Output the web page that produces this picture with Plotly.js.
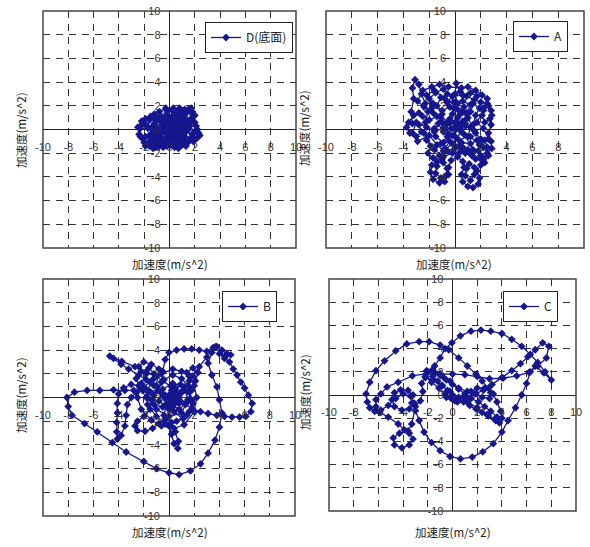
<!DOCTYPE html>
<html><head><meta charset="utf-8">
<script src="https://cdn.plot.ly/plotly-3.0.1.min.js"></script>
<style>html,body{margin:0;padding:0;background:#fff}#chart{width:590px;height:547px}</style>
</head><body><div id="chart"></div>
<script>
// ---- data ----
const tickVals = [-10,-8,-6,-4,-2,0,2,4,6,8,10];
const tickText = ["-10","-8","-6","-4","-2","0","2","4","6","8","10"];
const axisTitle = "加速度(m/s^2)";
const seriesNames = ["D(底面)","A","B","C"];

const dX = [0,0.4,0.9,1.3,1.5,1.2,0.6,0,-0.6,-1.0,-1.1,-0.8,-0.2,0.4,1.0,1.4,1.8,1.9,1.6,1.2,1.1,1.5,1.8,2.0,2.2,2.4,2.2,1.8,1.5,1.0,0.4,-0.2,-0.8,-1.3,-1.6,-1.4,-1.9,-2.3,-2.4,-2.1,-1.8,-1.5,-1.9,-2.0,-1.6,-1.1,-0.7,-0.3,0.2,0.7,0.9,0.5,-0.1,-0.5,-0.6,-1.0,-1.5,-1.9,-2.1,-1.7,-1.2,-0.7,-0.2,0.3,0.8,0.6,0.1,-0.4,-0.9,-0.9,-0.4,0.2,0.8,1.2,1.1,0.6,0.1,-0.3,0.3,0.8,1.6,2.0,1.7,1.1,0.6,0.0,-0.5,-1.1,-1.4,-1.2,-0.8,-0.3,0.2,0.7,1.2,1.0,0.4,0,
  0.2,-0.5,-1.2,-1.6,-2.2,-2.5,-2.3,-1.9,-1.3,-0.6,0.1,0.7,1.3,1.9,2.3,2.1,1.7,2.0,1.7,1.2,0.8,0.3,-0.3,-0.8,-1.3,-1.8,-1.3,-0.9,-0.3,0.2,0.6,1.0,1.4,1.8,1.3,0.9,0.5,-0.1,-0.6,-1.0,-1.4,-0.9,-0.2,0.5,1.0,1.6,1.2,0.6,0.0,-0.4,0.0,0.4];
const dY = [0,0.5,0.8,0.5,0,-0.6,-1.0,-1.2,-0.9,-0.4,0.2,0.8,1.2,1.3,1.1,1.5,1.5,1.1,0.8,1.0,1.4,1.7,1.3,0.6,0.0,-0.5,-0.7,-0.4,-0.9,-1.3,-1.5,-1.4,-1.3,-1.0,-0.5,0.2,0.4,0.1,-0.4,-0.8,-1.2,-0.9,-0.6,-1.1,-1.4,-1.2,-0.6,0,0.3,0.2,-0.3,-0.7,-0.6,-0.2,0.4,0.9,1.1,0.9,0.5,0.1,0.5,1.1,1.6,1.8,1.6,1.1,0.8,0.6,0.1,-0.7,-1.1,-1.0,-0.8,-0.3,0.3,0.6,0.4,-0.3,-0.4,0.1,0.3,-0.2,-0.8,-1.0,-1.3,-0.9,-1.5,-1.5,-1.2,-0.6,-0.1,0.5,1.1,1.3,0.8,0.2,-0.1,0.1,
  0.2,0.9,1.3,0.8,0.7,0.2,-0.6,-1.4,-1.6,-1.2,-1.3,-1.6,-1.4,-1.0,-0.3,0.3,0.7,1.2,1.8,1.7,1.8,1.5,1.8,1.5,1.0,0.3,-0.3,-0.9,-0.8,-0.6,-0.3,-0.7,-1.1,-0.6,0.0,0.5,0.9,0.9,0.2,-0.2,-0.7,-1.5,-1.1,-0.5,0.0,0.5,1.2,1.0,0.6,0.0,-0.3,0.2];

const aX = [0,0.6,1.2,1.0,0.3,-0.5,-0.7,-0.2,0.2,0.0,0.1,0.4,0.9,1.5,2.0,2.5,2.8,2.7,2.3,2.1,2.2,2.6,2.85,2.8,2.6,2.8,2.85,2.5,2.2,2.0,1.6,1.4,1.6,1.9,1.4,0.7,0.4,0.2,-0.3,-0.9,-1.3,-1.0,-1.4,-1.1,-0.6,-0.9,-1.5,-2.0,-1.8,-1.4,-2.0,-2.5,-2.8,-3.2,-3.6,-3.75,-3.5,-3.0,-2.6,-2.8,-3.3,-3.4,-3.2,-3.3,-3.1,-2.8,-2.6,-2.3,-2.1,-2.3,-2.4,-2.2,-1.9,-2.1,-1.7,-1.2,-0.8,-0.4,0.3,0.8,1.3,1.8,2.2,2.0,1.7,1.9,1.8,1.4,1.0,0.6,0.5,0.7,1.1,1.5,1.5,1.2,0.8,0.9,0.6,0.2,-0.3,-0.5,-0.5,-0.8,-1.2,-1.7,-1.9,-1.8,-1.4,-0.9,-0.6,-0.7,-1.1,-1.5,-1.4,-1.0,-0.6,0.0,0.5,1.2,1.7,2.3,2.5,2.6,2.3,2.0,1.4,0.7,0.3,-0.4,-1.0,-1.6,-1.5,-0.9,-0.2,0.4,0.9,0.6,-0.1,-0.6,-0.2,0.6,1.2,1.7,1.2,0.8,0,
  0.3,-0.4,-1.1,-1.7,-2.4,-2.9,-2.5,-1.8,-1.2,-0.5,0.5,1.0,1.6,2.1,2.5,2.2,1.7,2.2,2.6,1.9,1.2,0.5,-0.2,-0.9,-1.4,-2.0,-2.9,-3.3,-3.0,-2.2,-1.6,-0.8,0.0,0.8,1.5,1.0,0.2,-0.4,-1.0,-1.7,-2.2,-1.6,-0.8,-0.1,0.6,1.2,0.9,0.2,-0.6,-1.1,-1.6,-0.9,-0.2,0.4,1.0,1.6,2.1,1.3,0.6,0];
const aY = [0,0.7,0.2,-0.6,-0.9,-0.4,0.5,1.3,2.2,3.0,3.9,3.2,2.8,2.5,2.3,2.2,1.6,0.9,0.6,1.2,1.8,2.0,1.2,0.4,-0.3,-1.0,-1.6,-2.0,-1.5,-0.8,-0.3,0.4,1.2,1.8,2.2,1.9,1.3,0.5,0.1,-0.2,0.5,1.3,2.0,2.7,3.0,3.4,3.1,2.6,1.8,1.1,0.8,1.1,1.4,1.2,0.6,0.2,-0.3,-0.6,-0.2,0.4,0.5,1.5,2.6,3.5,4.2,3.8,3.0,2.2,1.5,0.6,-0.3,-0.9,-1.4,-2.0,-2.4,-2.2,-1.6,-1.0,-1.4,-2.0,-2.2,-1.8,-2.4,-3.0,-3.5,-4.1,-4.6,-4.9,-4.8,-4.4,-3.8,-3.2,-2.9,-3.2,-3.8,-4.3,-3.9,-3.3,-2.7,-2.3,-2.6,-3.2,-3.8,-4.4,-4.5,-4.2,-3.6,-3.0,-2.7,-2.8,-3.3,-3.9,-4.1,-3.7,-3.1,-2.5,-1.8,-1.6,-1.1,-1.2,-0.9,-0.9,-1.5,-2.2,-2.8,-2.2,-1.7,-0.4,0.4,0.9,0.6,0.1,-0.6,-1.1,-0.5,0.1,0.9,1.6,1.8,2.3,2.8,2.9,3.1,2.8,1.5,0.5,0,
  0.2,0.6,1.0,1.4,1.9,2.4,3.3,3.6,3.8,3.6,3.5,3.6,3.3,2.9,2.6,1.6,0.6,0.1,-0.8,-1.3,-0.6,-0.2,-1.2,-1.8,-1.3,-0.5,-1.0,-0.3,0.6,0.2,-0.2,0.2,0.6,0.3,-0.1,1.0,1.7,1.9,1.6,2.2,2.9,3.3,2.6,2.3,2.4,2.1,1.4,1.0,-0.6,-1.2,-1.7,-2.3,-2.0,-1.9,-1.7,-2.5,-2.6,-2.0,-1.5,-0.6];

const bX = [0,0.5,1.0,0.8,0.0,-0.8,-0.5,0.3,1.2,1.5,1.0,0.0,-1.0,-1.2,-0.6,-0.5,-0.3,0.0,0.6,1.2,1.8,2.4,3.0,3.5,3.8,4.2,4.6,4.9,4.5,4.0,4.4,4.8,5.1,5.4,5.7,6.0,6.3,6.6,6.5,6.1,5.6,5.0,4.4,3.8,3.1,2.5,1.9,1.3,0.7,0.2,-0.5,-1.0,-1.8,-2.7,-3.75,-4.7,-4.4,-3.8,-3.2,-2.4,-1.8,-1.2,-0.6,-0.2,0.4,1.1,1.6,1.8,1.6,1.0,0.3,-0.4,-0.9,-1.5,-2.1,-2.8,-3.5,-4.4,-5.5,-6.5,-7.5,-8.1,-8.0,-7.7,-6.7,-5.7,-4.5,-3.4,-2.0,-1.0,0.0,0.8,1.7,2.5,3.1,3.65,4.0,4.2,4.0,3.8,3.4,3.1,3.4,3.7,3.0,2.4,1.9,1.5,0.9,0.2,-0.5,-1.2,-1.8,-2.3,-2.6,-2.2,-1.6,-1.2,-1.5,-2.0,-2.6,-3.0,-3.3,-3.4,-3.5,-3.8,-4.1,-4.15,-4.15,-4.1,-4.1,-4.0,-3.6,-3.0,-2.4,-1.8,-1.4,-1.5,-2.0,-2.5,-2.7,-2.5,-1.9,-1.3,-0.8,-0.3,0.2,0.5,0.75,0.7,0.4,0.2,0.0,-0.4,-0.2,0.5,1.2,1.6,1.4,1.9,2.3,2.1,1.8,1.4,0.8,0.2,-0.3,0.2,0.8,0.5,0,
  0.2,0.9,1.5,1.9,1.4,0.6,-0.3,-1.0,-1.7,-1.7,-1.3,-0.6,0.3,1.0,1.6,2.0,2.2,2.0,1.2,0.4,-0.6,-1.4,-2.2,-2.5,-2.2,-1.8,-2.4,-2.0,-1.4,-0.8,-1.0,-0.4,0.3,0.9,0.6,0];
const bY = [0,0.8,0.5,-0.5,-1.0,-0.3,0.7,1.2,0.9,-0.2,-1.3,-1.6,-1.0,0.2,1.3,2.2,3.2,3.8,4.0,4.1,4.1,4.0,3.9,4.2,4.3,4.0,3.7,3.6,3.5,3.7,3.3,3.0,2.4,1.9,1.3,0.8,0.2,-0.5,-1.2,-1.6,-1.65,-1.65,-1.6,-1.5,-1.35,-1.2,-1.0,-0.6,0.2,0.9,1.4,1.8,2.1,2.6,3.05,3.5,3.3,2.8,2.4,1.9,1.5,1.0,0.4,-0.5,-1.2,-1.8,-1.2,-0.2,0.9,1.6,1.9,1.5,0.6,0.5,0.6,0.6,0.6,0.65,0.6,0.6,0.45,0.0,-0.75,-1.5,-2.2,-2.9,-3.8,-4.6,-5.4,-6.0,-6.35,-6.5,-6.2,-5.6,-4.7,-3.6,-2.5,-1.3,-0.2,0.9,1.9,2.9,3.8,4.3,3.4,2.6,1.8,1.0,0.3,-0.3,-0.8,-0.6,0.0,0.8,1.6,2.2,2.5,2.0,1.3,0.9,0.4,0.0,-0.6,-1.5,-2.4,-3.2,-3.5,-2.9,-2.1,-1.3,-0.5,0.3,0.8,1.1,1.0,0.6,-0.2,-1.0,-1.6,-2.0,-2.4,-2.8,-2.85,-2.6,-2.2,-1.8,-2.1,-2.9,-3.7,-4.3,-3.9,-3.1,-2.4,-1.5,-0.6,0.0,0.6,1.4,2.1,2.5,2.1,1.4,0.6,-0.4,-1.0,-0.6,0.2,0.6,0.0,-0.4,0,
  0.3,1.1,0.5,-0.5,-1.5,-2.0,-2.2,-1.6,-0.6,0.6,1.5,2.0,2.4,2.2,1.8,1.0,0.0,-1.2,-2.3,-2.6,-2.4,-1.9,-1.0,0.0,1.2,2.0,2.6,3.0,2.8,2.4,1.0,0.0,-0.8,-0.3,0.4,0];

const cX = [-2.0,-1.6,-1.2,-0.8,-0.4,0,0.4,0.9,1.4,1.9,2.4,2.9,3.4,3.8,3.6,3.1,2.6,2.1,1.5,1.0,0.5,0.0,-0.5,-1.0,-1.6,-2.1,-2.2,-1.7,-1.1,-0.6,-0.1,0.4,1.5,2.0,2.6,3.1,3.0,2.4,1.9,1.2,0.5,-0.2,-0.8,-1.4,-2.0,-1.45,-1.0,-0.6,-0.05,0.64,1.5,2.3,3.1,4.0,4.8,5.6,6.3,6.9,7.5,8.0,7.4,6.7,6.3,6.0,5.6,5.1,4.5,4.0,3.3,2.45,1.6,0.64,-0.2,-1.0,-1.7,-2.3,-2.7,-3.0,-3.3,-3.2,-3.6,-4.2,-4.7,-4.9,-4.7,-4.1,-3.5,-3.1,-3.4,-4.0,-4.6,-5.2,-5.8,-6.3,-6.7,-6.9,-7.0,-6.7,-6.2,-5.5,-4.6,-3.7,-2.7,-1.9,-1.0,-0.3,0.5,1.2,1.9,2.4,2.9,3.3,3.6,3.9,4.0,3.5,2.8,2.0,1.2,0.5,-0.2,-0.9,-1.6,-2.2,-2.5,-2.4,-2.6,-3.0,-3.3,-3.6,-4.3,-4.8,-4.7,-4.1,-3.5,-3.2,-3.5,-3.9,-4.4,-5.2,-5.9,-6.2,-6.2,-5.8,-5.3,-4.4,-3.25,-2.1,-1.0,0.0,1.0,2.0,3.0,4.1,5.2,6.2,6.9,7.6,7.8,7.3,6.7,6.1,5.5,4.8,4.0,3.2,2.5,1.8,1.0,0.2,-0.5];
const cY = [2.0,1.6,1.2,0.8,0.4,0,-0.3,-0.6,-0.9,-1.2,-1.5,-1.8,-2.1,-2.4,-1.9,-1.4,-1.0,-0.6,-0.3,0.1,0.5,0.9,1.3,1.7,2.2,2.1,1.6,1.1,0.6,0.1,-0.3,-0.6,0.3,0.6,0.6,0.2,-0.3,-0.2,0.1,0.3,0.6,1.2,1.6,1.9,2.0,2.5,3.2,4.0,4.5,5.1,5.5,5.6,5.5,5.3,4.8,4.2,3.5,2.8,2.0,1.3,1.9,2.5,2.0,1.0,0.0,-1.1,-2.2,-3.2,-4.2,-4.9,-5.35,-5.5,-5.3,-4.8,-4.1,-3.2,-2.2,-1.35,-0.7,0.0,0.4,0.45,0.2,-0.4,-1.0,-1.3,-1.2,-0.7,-0.1,0.1,-0.3,-0.9,-1.3,-1.4,-1.1,-0.6,0.1,1.1,2.1,2.95,3.8,4.4,4.6,4.6,4.3,3.9,3.2,2.5,1.8,1.2,0.6,0.1,-0.6,-1.4,-2.0,-2.2,-1.7,-1.1,-0.6,-0.2,0.3,0.8,1.3,1.5,1.0,0.3,-0.5,-1.0,-2.5,-3.1,-3.3,-3.7,-4.3,-4.55,-4.3,-3.8,-3.3,-3.0,-2.5,-1.9,-1.5,-1.0,-0.4,0.1,0.7,1.1,1.65,1.85,1.85,1.8,1.75,1.6,1.4,1.45,1.65,1.95,2.5,3.2,4.2,4.5,3.9,3.3,2.7,2.1,1.5,0.9,0.4,0.1,-0.2,-0.5,-0.2,0.5];

// ---- layout helpers ----
const W = 590, H = 547;
const boxes = [
  {l:43, r:296, t:11, b:248},
  {l:326, r:584, t:11, b:248},
  {l:43, r:295, t:279, b:516},
  {l:329, r:576, t:279, b:511}
];
const legendPos = [{r:293,t:22},{r:568,t:21},{r:277,t:291},{r:558,t:291}];
const xTitlePos = [{x:170,y:264},{x:454,y:264},{x:170,y:532},{x:453,y:532}];
const yTitlePos = [{x:21,y:130},{x:304,y:128},{x:21,y:395},{x:305,y:392}];

const xs = [dX,aX,bX,cX], ys = [dY,aY,bY,cY];
const col = '#16168e';
const data = [], layout = {
  width:W, height:H, margin:{l:0,r:0,t:0,b:0}, paper_bgcolor:'#fff', plot_bgcolor:'#fff',
  showlegend:true, shapes:[], annotations:[],
  font:{family:'Liberation Sans, Arial, sans-serif', size:11, color:'#333'}
};
const jp = 'Noto Sans CJK JP, sans-serif';
for (let i=0;i<4;i++){
  const s = i===0?'':String(i+1);
  const B = boxes[i];
  data.push({x:xs[i], y:ys[i], type:'scatter', mode:'lines+markers', name:seriesNames[i],
    xaxis:'x'+s, yaxis:'y'+s, legend:'legend'+s,
    line:{color:col, width:1.3}, marker:{symbol:'diamond', size:6, color:col}, cliponaxis:true});
  const ax = {range:[-10,10], tickvals:tickVals, ticktext:tickText, showgrid:true, gridcolor:'#333',
    griddash:'7px,6px', gridwidth:1, zeroline:true, zerolinecolor:'#222', zerolinewidth:1,
    showline:false, ticks:'', tickfont:{size:11, color:'#333'}, fixedrange:true,
    anchor:'free', automargin:false};
  layout['xaxis'+s] = Object.assign({}, ax, {domain:[B.l/W, B.r/W], position:1-((B.t+B.b)/2)/H, ticklabelstandoff:9});
  layout['yaxis'+s] = Object.assign({}, ax, {domain:[1-B.b/H, 1-B.t/H], position:((B.l+B.r)/2)/W, ticklabelstandoff:9});
  layout.shapes.push({type:'rect', xref:'x'+s+' domain', yref:'y'+s+' domain', x0:0,x1:1,y0:0,y1:1,
    line:{color:'#444', width:1.5}, layer:'above'});
  layout['legend'+s] = {x:legendPos[i].r/W, xanchor:'right', y:1-legendPos[i].t/H, yanchor:'top',
    bgcolor:'#fff', bordercolor:'#222', borderwidth:1, font:{family:jp, size:12, color:'#222'},
    itemwidth:30, tracegroupgap:0};
  layout.annotations.push({xref:'paper', yref:'paper', x:xTitlePos[i].x/W, y:1-xTitlePos[i].y/H,
    text:axisTitle, showarrow:false, xanchor:'center', yanchor:'middle', font:{family:jp, size:11.5, color:'#222'}});
  layout.annotations.push({xref:'paper', yref:'paper', x:yTitlePos[i].x/W, y:1-yTitlePos[i].y/H,
    text:axisTitle, showarrow:false, textangle:-90, xanchor:'center', yanchor:'middle', font:{family:jp, size:11.5, color:'#222'}});
}
Plotly.newPlot('chart', data, layout, {staticPlot:true});
</script></body></html>
